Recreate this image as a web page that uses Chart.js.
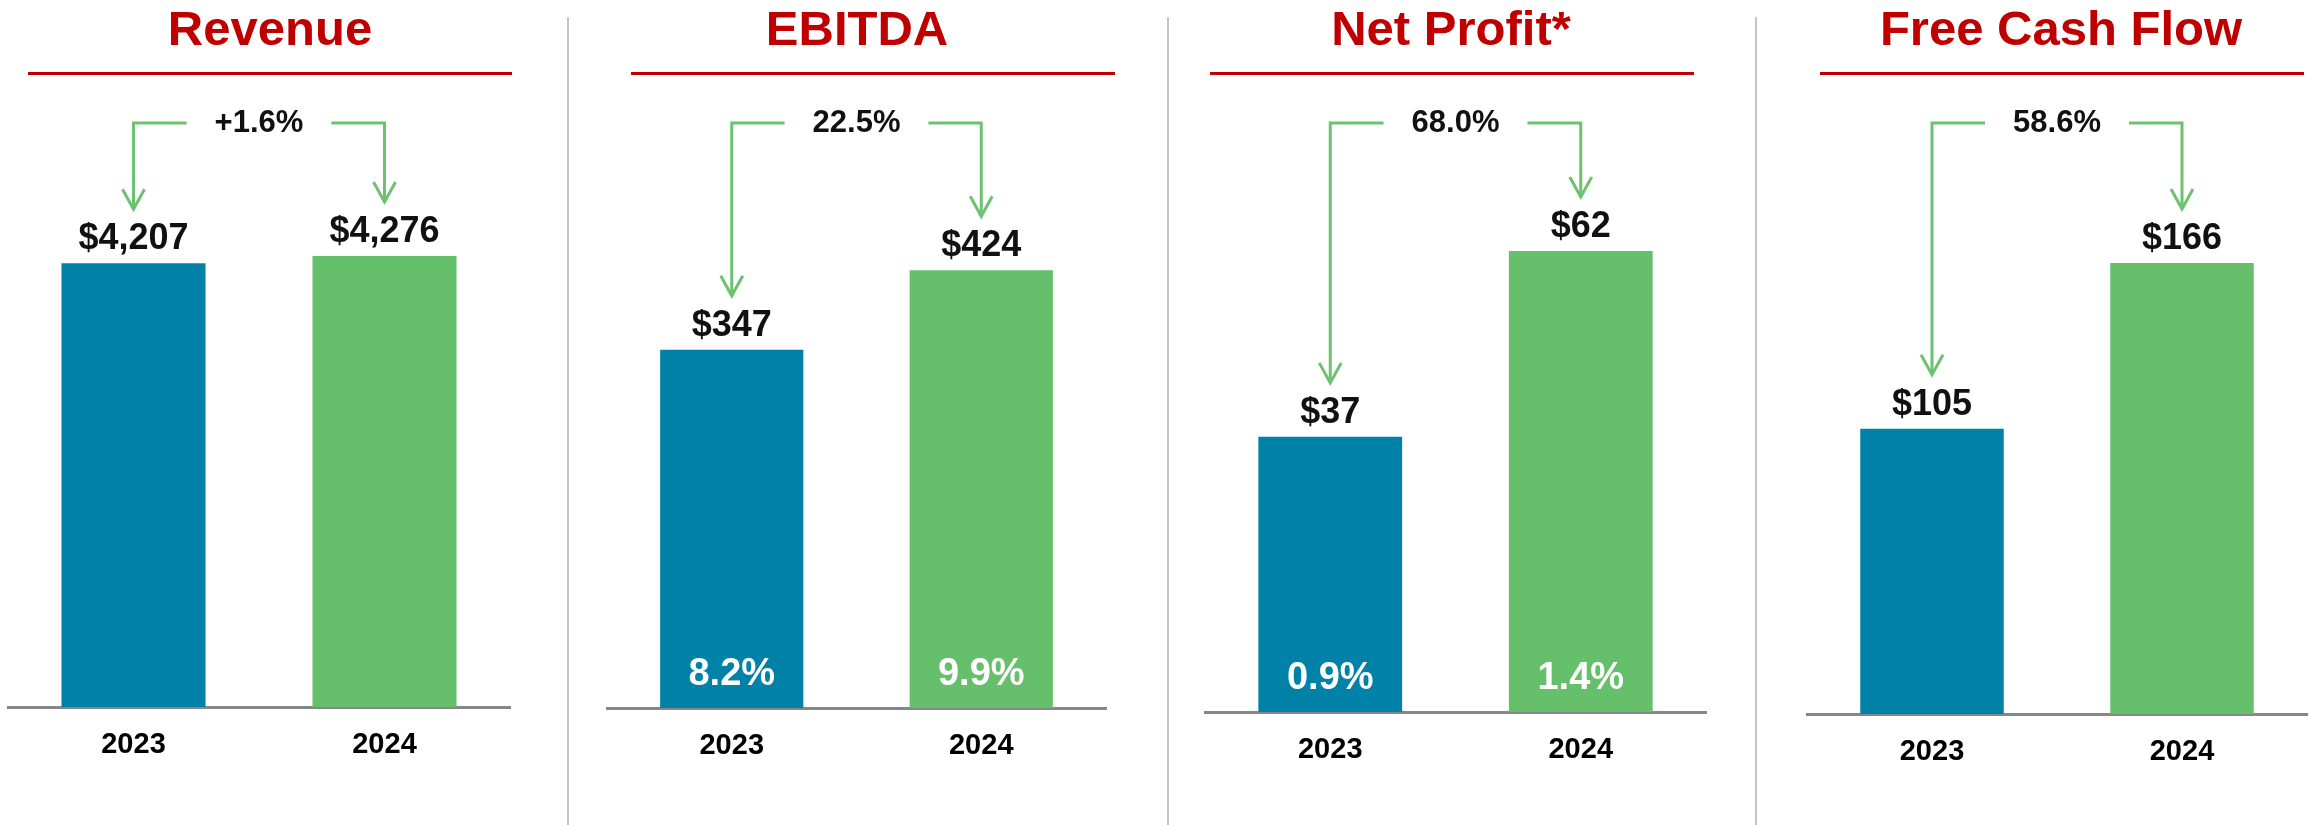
<!DOCTYPE html>
<html>
<head>
<meta charset="utf-8">
<script src="https://cdn.jsdelivr.net/npm/chart.js@4/dist/chart.umd.min.js"></script>
<style>
  html, body { margin: 0; padding: 0; background: #fff; overflow: hidden; }
  body { width: 2310px; height: 825px; position: relative; }
  canvas { position: absolute; top: 0; }
  .divider { position: absolute; top: 17px; bottom: 0; width: 2px; background: #c4c4c4; }
</style>
</head>
<body>
<canvas id="chartRevenue" width="567" height="825" style="left:0px"></canvas>
<canvas id="chartEbitda" width="597" height="825" style="left:569px"></canvas>
<canvas id="chartProfit" width="586" height="825" style="left:1169px"></canvas>
<canvas id="chartCash" width="553" height="825" style="left:1757px"></canvas>
<div class="divider" style="left:567px"></div>
<div class="divider" style="left:1167px"></div>
<div class="divider" style="left:1755px"></div>
<script>
// data
const years = ["2023", "2024"];
const revenue = [4207, 4276];
const ebitda = [347, 424];
const netProfit = [37, 62];
const freeCashFlow = [105, 166];
const titles = ["Revenue", "EBITDA", "Net Profit*", "Free Cash Flow"];
const growth = ["+1.6%", "22.5%", "68.0%", "58.6%"];
const ebitdaMargin = ["8.2%", "9.9%"];
const netMargin = ["0.9%", "1.4%"];

const BLUE = "#0081A7";
const GREEN = "#66BF6B";
const ARROW = "#6CC271";
const RED = "#C00000";
const FONT = '"Liberation Sans", Arial, sans-serif';

Chart.defaults.font.family = FONT;

// titles, red rules, value labels, growth arrows
const panelDecor = {
  id: "panelDecor",
  afterDatasetsDraw(chart, args, o) {
    const ctx = chart.ctx;
    const bars = chart.getDatasetMeta(0).data;
    const values = chart.data.datasets[0].data;
    ctx.save();

    ctx.fillStyle = RED;
    ctx.textAlign = "center";
    ctx.textBaseline = "alphabetic";
    ctx.font = "bold 49px " + FONT;
    ctx.fillText(o.title, o.titleX - o.left, 45);
    ctx.fillRect(o.lineX - 242 - o.left, 72, 484, 3);

    // values above bars
    ctx.fillStyle = "#111";
    ctx.font = "bold 36px " + FONT;
    bars.forEach((b, i) => {
      ctx.fillText("$" + values[i].toLocaleString("en-US"), b.x, b.y - 14);
    });

    // margins inside bars
    if (o.inside) {
      ctx.fillStyle = "#fff";
      ctx.font = "bold 38px " + FONT;
      bars.forEach((b, i) => ctx.fillText(o.inside[i], b.x, b.base - 23));
    }

    // growth label and arrows
    const yH = 123, gap = 28;
    const mid = (bars[0].x + bars[1].x) / 2;
    ctx.fillStyle = "#111";
    ctx.font = "bold 31px " + FONT;
    ctx.textBaseline = "middle";
    ctx.fillText(o.growth, mid, yH);
    const tw = ctx.measureText(o.growth).width;

    ctx.strokeStyle = ARROW;
    ctx.lineWidth = 3;
    ctx.lineJoin = "miter";
    const arrow = (fromX, b) => {
      const tip = b.y - 54;
      ctx.beginPath();
      ctx.moveTo(fromX, yH);
      ctx.lineTo(b.x, yH);
      ctx.lineTo(b.x, tip);
      ctx.stroke();
      ctx.beginPath();
      ctx.moveTo(b.x - 11, tip - 20);
      ctx.lineTo(b.x, tip);
      ctx.lineTo(b.x + 11, tip - 20);
      ctx.stroke();
    };
    arrow(mid - tw / 2 - gap, bars[0]);
    arrow(mid + tw / 2 + gap, bars[1]);
    ctx.restore();
  },
};

function makePanel(id, values, cfg) {
  return new Chart(document.getElementById(id), {
    type: "bar",
    data: {
      labels: years,
      datasets: [
        {
          data: values,
          backgroundColor: [BLUE, GREEN],
          barPercentage: 0.574,
          categoryPercentage: 1,
        },
      ],
    },
    options: {
      responsive: false,
      animation: false,
      devicePixelRatio: 1,
      layout: { padding: { top: 100, left: cfg.padL, right: cfg.padR, bottom: 0 } },
      plugins: {
        legend: { display: false },
        tooltip: { enabled: false },
        panelDecor: cfg.decor,
      },
      scales: {
        x: {
          grid: { display: false, drawTicks: false },
          border: { display: true, color: "#878787", width: 3 },
          ticks: { color: "#000", font: { size: 29, weight: "bold" }, padding: 21 },
          afterFit: (s) => { s.height = 825 - cfg.baseline; },
        },
        y: { display: false, min: 0, max: cfg.max },
      },
    },
    plugins: [panelDecor],
  });
}

makePanel("chartRevenue", revenue, {
  padL: 8, padR: 57, baseline: 707, max: 5754,
  decor: { left: 0, title: titles[0], titleX: 270, lineX: 270, growth: growth[0] },
});
makePanel("chartEbitda", ebitda, {
  padL: 38, padR: 60, baseline: 708, max: 589,
  decor: { left: 569, title: titles[1], titleX: 857, lineX: 873, growth: growth[1], inside: ebitdaMargin },
});
makePanel("chartProfit", netProfit, {
  padL: 36, padR: 49, baseline: 712, max: 82.3,
  decor: { left: 1169, title: titles[2], titleX: 1451, lineX: 1452, growth: growth[2], inside: netMargin },
});
makePanel("chartCash", freeCashFlow, {
  padL: 50, padR: 3, baseline: 714, max: 226,
  decor: { left: 1757, title: titles[3], titleX: 2061, lineX: 2062, growth: growth[3] },
});
</script>
</body>
</html>
